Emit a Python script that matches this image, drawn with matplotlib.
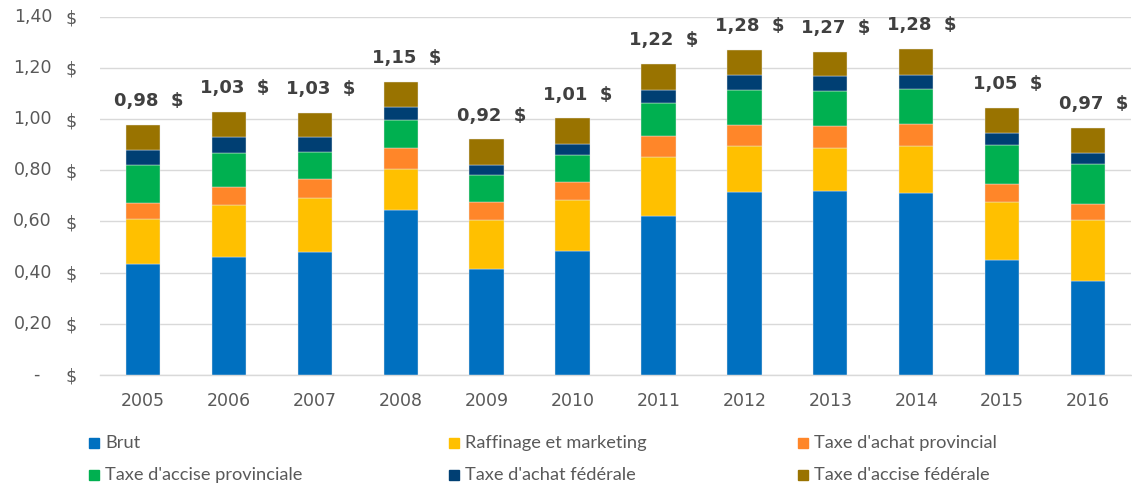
import numpy as np
import matplotlib
matplotlib.use("Agg")
import matplotlib.pyplot as plt
from matplotlib.patches import Rectangle

years = ["2005", "2006", "2007", "2008", "2009", "2010",
         "2011", "2012", "2013", "2014", "2015", "2016"]

brut = [0.432, 0.460, 0.482, 0.646, 0.414, 0.484, 0.622, 0.716, 0.719, 0.712, 0.448, 0.366]
raffinage = [0.179, 0.203, 0.211, 0.159, 0.193, 0.198, 0.228, 0.180, 0.169, 0.184, 0.228, 0.238]
achat_prov = [0.063, 0.071, 0.071, 0.083, 0.069, 0.072, 0.082, 0.081, 0.086, 0.084, 0.071, 0.065]
accise_prov = [0.146, 0.134, 0.108, 0.108, 0.104, 0.104, 0.131, 0.138, 0.137, 0.138, 0.151, 0.155]
achat_fed = [0.059, 0.060, 0.056, 0.051, 0.040, 0.044, 0.052, 0.056, 0.056, 0.056, 0.046, 0.044]
accise_fed = [0.098, 0.101, 0.097, 0.098, 0.101, 0.101, 0.100, 0.100, 0.096, 0.101, 0.100, 0.098]

totals = [0.98, 1.03, 1.03, 1.15, 0.92, 1.01, 1.22, 1.28, 1.27, 1.28, 1.05, 0.97]

series_names = ["Brut", "Raffinage et marketing", "Taxe d'achat provincial",
                "Taxe d'accise provinciale", "Taxe d'achat fédérale", "Taxe d'accise fédérale"]
series = [brut, raffinage, achat_prov, accise_prov, achat_fed, accise_fed]
colors = ["#0070C0", "#FFC000", "#FF8629", "#00B050", "#003F73", "#997300"]

yticks = [0, 0.2, 0.4, 0.6, 0.8, 1.0, 1.2, 1.4]

W, H = 1132, 499
fig = plt.figure(figsize=(W / 100, H / 100), dpi=100)
ax = fig.add_axes([100 / W, 1 - 375 / H, 1031 / W, (375 - 16.7) / H])

x = np.arange(len(years))
bottom = np.zeros(len(years))
for vals, name, c in zip(series, series_names, colors):
    ax.bar(x, vals, 0.4, bottom=bottom, color=c, label=name,
           edgecolor="#e8e8e8", linewidth=0.3, zorder=3)
    bottom += np.array(vals)

for xi, top, t in zip(x, bottom, totals):
    ax.annotate(f"{t:.2f}".replace(".", ",") + "  $", (xi, top),
                xytext=(4, 13.5), textcoords="offset points",
                ha="center", va="baseline", fontsize=13, fontweight="bold",
                color="#404040")

ax.set_xlim(-0.5, len(years) - 0.5)
ax.set_ylim(0, 1.4)
ax.set_xticks(x)
ax.set_xticklabels(years, fontsize=12.5, color="#595959")
ax.set_yticks(yticks)
ax.set_yticklabels(["$"] * len(yticks), fontsize=12.5, color="#595959")
ax.tick_params(axis="y", length=0, pad=17)
ax.tick_params(axis="x", length=0, pad=12)

ytr = ax.get_yaxis_transform()
for v in yticks:
    if v == 0:
        ax.text(-60 / 1031, v, "-", transform=ytr, ha="right", va="center",
                fontsize=12.5, color="#595959")
    else:
        ax.text(-48 / 1031, v, f"{v:.2f}".replace(".", ","), transform=ytr,
                ha="right", va="center", fontsize=12.5, color="#595959")

ax.grid(axis="y", color="#D9D9D9", linewidth=1.0, zorder=0)
for s in ["top", "right", "left"]:
    ax.spines[s].set_visible(False)
ax.spines["bottom"].set_color("#D9D9D9")
ax.spines["bottom"].set_linewidth(1.0)

# legend, three columns on two rows; size the font so the longest entry fits
col_x = [89, 449, 798]
row_y = [443, 475]
legend_font = ["Lato", "DejaVu Sans"]
renderer = fig.canvas.get_renderer()
probe = fig.text(0, 0, "Taxe d'accise provinciale", fontsize=13, family=legend_font)
w = probe.get_window_extent(renderer).width
probe.remove()
legend_size = 13 * 197 / w

for i, (name, c) in enumerate(zip(series_names, colors)):
    cx = col_x[i % 3]
    cy = row_y[i // 3]
    fig.patches.append(Rectangle((cx / W, 1 - (cy + 5) / H), 10 / W, 10 / H,
                                 transform=fig.transFigure, color=c))
    fig.text((cx + 16) / W, 1 - cy / H, name, ha="left", va="center",
             fontsize=legend_size, color="#595959", family=legend_font)

fig.savefig("out.png", dpi=100)
